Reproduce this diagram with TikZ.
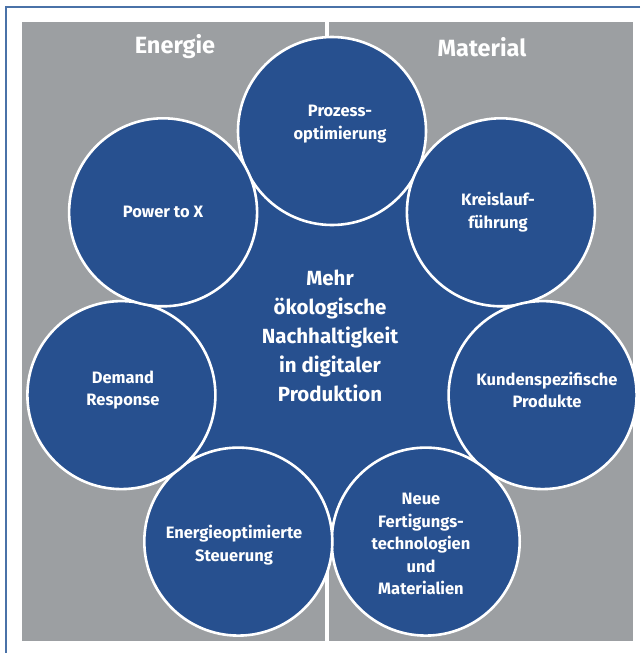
\documentclass[tikz,border=0pt]{standalone}
\usepackage{fontspec}
\setmainfont{Fira Sans}
\definecolor{panelgray}{HTML}{9C9FA2}
\definecolor{discblue}{HTML}{27508F}
\definecolor{frameblue}{HTML}{4A72A8}
\begin{document}
\begin{tikzpicture}[x=1pt,y=-1pt,
  disc/.style={circle, fill=discblue, draw=white, line width=2.6pt,
    minimum size=188pt, inner sep=0pt},
  hub/.style={circle, fill=discblue, minimum size=350pt, inner sep=0pt},
  disctext/.style={text=white, align=center,
    font=\bfseries\fontsize{16.5}{22.5}\selectfont},
  hubtext/.style={text=white, align=center,
    font=\bfseries\fontsize{20.5}{29}\selectfont},
  head/.style={text=white, font=\bfseries\fontsize{23.5}{27}\selectfont}]
\useasboundingbox (0,0) rectangle (640,653);
\fill[white] (0,0) rectangle (640,653);
% page frame
\draw[frameblue, line width=1.4pt] (640,7) -- (6,7) -- (6,653);
% two grey panels
\fill[panelgray] (22,22) rectangle (325,641);
\fill[panelgray] (329,22) rectangle (633,641);
\node[head] (energie) at (175,47) {Energie};
\node[head] (material) at (482,47) {Material};
% central disc
\node[hub] (core) at (332,347) {};
% ring of seven discs
\node[disc] (prozess)  at (332,131)   {};
\node[disc] (kreis)    at (500.9,212.3) {};
\node[disc] (kunden)   at (542.6,395.1) {};
\node[disc] (neue)     at (425.7,541.6) {};
\node[disc] (steuer)   at (238.3,541.6) {};
\node[disc] (demand)   at (121.4,395.1) {};
\node[disc] (power)    at (163.1,212.3) {};
% texts
\node[hubtext] (coretext) at (330,336) {Mehr\\ökologische\\Nachhaltigkeit\\in digitaler\\Produktion};
\node[disctext] (prozess-t) at (340,124) {Prozess-\\optimierung};
\node[disctext] (kreis-t)   at (498,212) {Kreislauf-\\führung};
\node[disctext] (kunden-t)  at (547,390) {Kundenspezifische\\Produkte};
\node[disctext] (neue-t)    at (421,544) {Neue\\Fertigungs-\\technologien\\und\\Materialien};
\node[disctext] (steuer-t)  at (234,545) {Energieoptimierte\\Steuerung};
\node[disctext] (demand-t)  at (123,390) {Demand\\Response};
\node[disctext] (power-t)   at (163,212) {Power to X};
\end{tikzpicture}
\end{document}
